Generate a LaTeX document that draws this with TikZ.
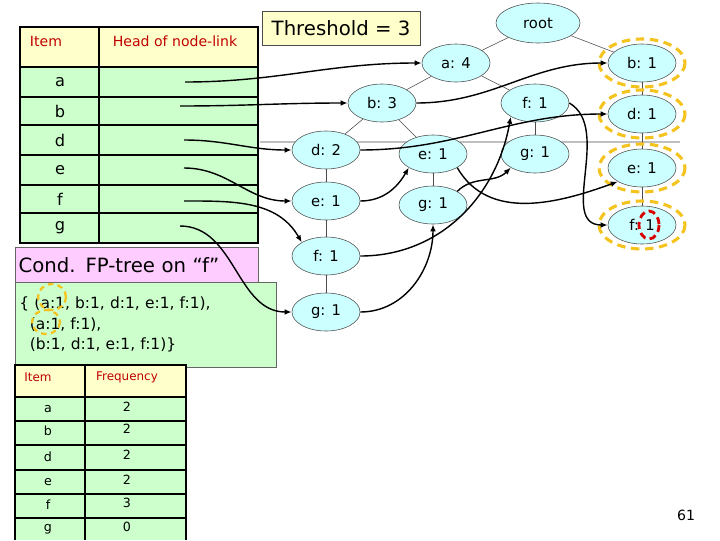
\documentclass[tikz,border=0pt]{standalone}
\usepackage{fontspec}
\setmainfont{DejaVu Sans}
\usetikzlibrary{shapes.geometric,arrows.meta}
\definecolor{tgreen}{RGB}{204,255,204}
\definecolor{tyellow}{RGB}{255,255,204}
\definecolor{tpink}{RGB}{255,204,255}
\definecolor{tnode}{RGB}{204,255,255}
\definecolor{tred}{RGB}{192,0,0}
\definecolor{hl}{RGB}{245,195,30}
\tikzset{
  tn/.style={ellipse, draw=black!70, fill=tnode, minimum width=1.7cm, minimum height=0.95cm, inner sep=0pt, font=\fontsize{10.5}{12}\selectfont},
  tree/.style={draw=black!70, thin},
  lnk/.style={draw=black, line width=1pt, -{Latex[length=5pt,width=4pt]}},
  hlc/.style={draw=hl, line width=2.2pt, dash pattern=on 6pt off 4pt},
  cell/.style={draw=black, line width=1.6pt},
}
\begin{document}
\begin{tikzpicture}[x=0.025cm,y=-0.025cm]
\useasboundingbox (0,0) rectangle (720,540);
% faint background line
\draw[black!25, line width=2pt] (260,142) -- (680,142);
% header table
\fill[tyellow] (20,27) rectangle (258,67);
\fill[tgreen] (20,67) rectangle (258,243);
\foreach \y in {67,97,125,155,185,213} \draw[cell, line width=1pt] (20,\y) -- (258,\y);
\draw[cell] (20,27) rectangle (258,243);
\draw[cell, line width=1pt] (99,27) -- (99,243);
\node[text=tred, font=\fontsize{10}{12}\selectfont] (hi) at (46,41) {Item};
\node[text=tred, font=\fontsize{10}{12}\selectfont] (hh) at (175,41) {Head of node-link};
\foreach \n/\y in {a/82,b/111,d/140,e/170,f/199,g/228}
  \node[font=\fontsize{11.5}{12}\selectfont] (r\n) at (60,\y) {\n};
\foreach \n/\y/\x in {a/82/185,b/106/180,d/140/184,e/168/184,f/201/184,g/226/180}
  \coordinate (s\n) at (\x,\y);
% threshold
\node[draw=black!70, fill=tyellow, minimum width=3.95cm, minimum height=0.85cm, inner sep=1pt, font=\fontsize{14}{16}\selectfont] (th) at (341,28) {Threshold = 3};
% pink and green boxes
\node[draw=black!60, fill=tpink, minimum width=6.07cm, minimum height=0.9cm, inner sep=2pt, anchor=north west, font=\fontsize{14}{18}\selectfont, text width=5.9cm] (cond) at (15,247) {Cond. FP-tree on “f”};
\node[draw=black!60, fill=tgreen, minimum width=6.5cm, minimum height=2.12cm, anchor=north west, inner sep=3pt, text width=6.3cm, align=left, font=\fontsize{11}{14.5}\selectfont] (cf) at (15,282)
  {\{ (a:1, b:1, d:1, e:1, f:1),\\\ \ (a:1, f:1),\\\ \ (b:1, d:1, e:1, f:1)\}};
\draw[hlc, line width=1.6pt, dash pattern=on 4pt off 3pt] (52,297) ellipse (14 and 13);
\draw[hlc, line width=1.6pt, dash pattern=on 4pt off 3pt] (46,322) ellipse (14 and 12);
% frequency table
\fill[tyellow] (15,365) rectangle (186,397);
\fill[tgreen] (15,397) rectangle (186,540);
\foreach \y in {397,421,445,470,494,518} \draw[cell, line width=1pt] (15,\y) -- (186,\y);
\draw[cell] (15,540) -- (15,365) -- (186,365) -- (186,540);
\draw[cell, line width=1pt] (85,365) -- (85,540);
\node[text=tred, font=\fontsize{8.5}{10}\selectfont] (fi) at (38,377) {Item};
\node[text=tred, font=\fontsize{8.5}{10}\selectfont] (ff) at (127,377) {Frequency};
\foreach \n/\v/\y in {a/2/409,b/2/431,d/2/457,e/2/482,f/3/505,g/0/529}{
  \node[font=\fontsize{9}{10}\selectfont] (fr\n) at (48,\y) {\n};
  \node[font=\fontsize{9}{10}\selectfont] (fv\n) at (127,\y-2) {\v};}
% tree nodes
\node[tn, minimum width=2.1cm, minimum height=1.0cm] (root) at (538,23) {root};
\node[tn] (a4) at (456,63) {a: 4};
\node[tn] (b3) at (382,103) {b: 3};
\node[tn] (f1t) at (535,103) {f: 1};
\node[tn] (d2) at (326,150) {d: 2};
\node[tn] (e1m) at (433,154) {e: 1};
\node[tn] (g1r) at (535,154) {g: 1};
\node[tn] (e1l) at (326,201) {e: 1};
\node[tn] (g1m) at (433,205) {g: 1};
\node[tn] (f1l) at (326,256) {f: 1};
\node[tn] (g1l) at (326,312) {g: 1};
\node[tn] (b1) at (642,63) {b: 1};
\node[tn] (d1) at (642,114) {d: 1};
\node[tn] (e1r) at (642,168) {e: 1};
\node[tn] (f1r) at (642,225) {f: 1};
\draw[tree] (root) -- (a4); \draw[tree] (root) -- (b1);
\draw[tree] (a4) -- (b3); \draw[tree] (a4) -- (f1t);
\draw[tree] (b3) -- (d2); \draw[tree] (b3) -- (e1m);
\draw[tree] (d2) -- (e1l); \draw[tree] (e1l) -- (f1l); \draw[tree] (f1l) -- (g1l);
\draw[tree] (e1m) -- (g1m); \draw[tree] (f1t) -- (g1r);
\draw[tree] (b1) -- (d1); \draw[tree] (d1) -- (e1r); \draw[tree] (e1r) -- (f1r);
% highlights
\foreach \n in {b1,d1,e1r,f1r} \draw[hlc] (\n) ellipse (43 and 24);
\draw[draw=red!85!black, line width=2pt, dash pattern=on 5pt off 3pt] (649,225) ellipse (10 and 14);
% node-links
\draw[lnk] (sa) to[out=0,in=180] (a4.west);
\draw[lnk] (sb) to[out=0,in=180] (b3.west);
\draw[lnk] (sd) to[out=0,in=180] (d2.west);
\draw[lnk] (se) to[out=0,in=180] (e1l.west);
\draw[lnk] (sf) to[out=0,in=120] (f1l.north west);
\draw[lnk] (sg) to[out=0,in=180] (g1l.west);
\draw[lnk] (b3.east) to[out=0,in=180] (b1.west);
\draw[lnk] (d2.east) to[out=0,in=180] (d1.west);
\draw[lnk] (e1l.east) to[out=0,in=240] (e1m.south west);
\draw[lnk] (e1m.south east) to[out=-60,in=200] (e1r.south west);
\draw[lnk] (f1l.east) to[out=0,in=260] (f1t.south west);
\draw[lnk] (f1t.east) to[out=-30,in=180] (f1r.west);
\draw[lnk] (g1l.east) to[out=0,in=270] (g1m.south);
\draw[lnk] (g1m.north east) to[out=45,in=225] (g1r.south west);
\node[font=\fontsize{10}{12}\selectfont] (pg) at (686,515) {61};
\end{tikzpicture}
\end{document}
